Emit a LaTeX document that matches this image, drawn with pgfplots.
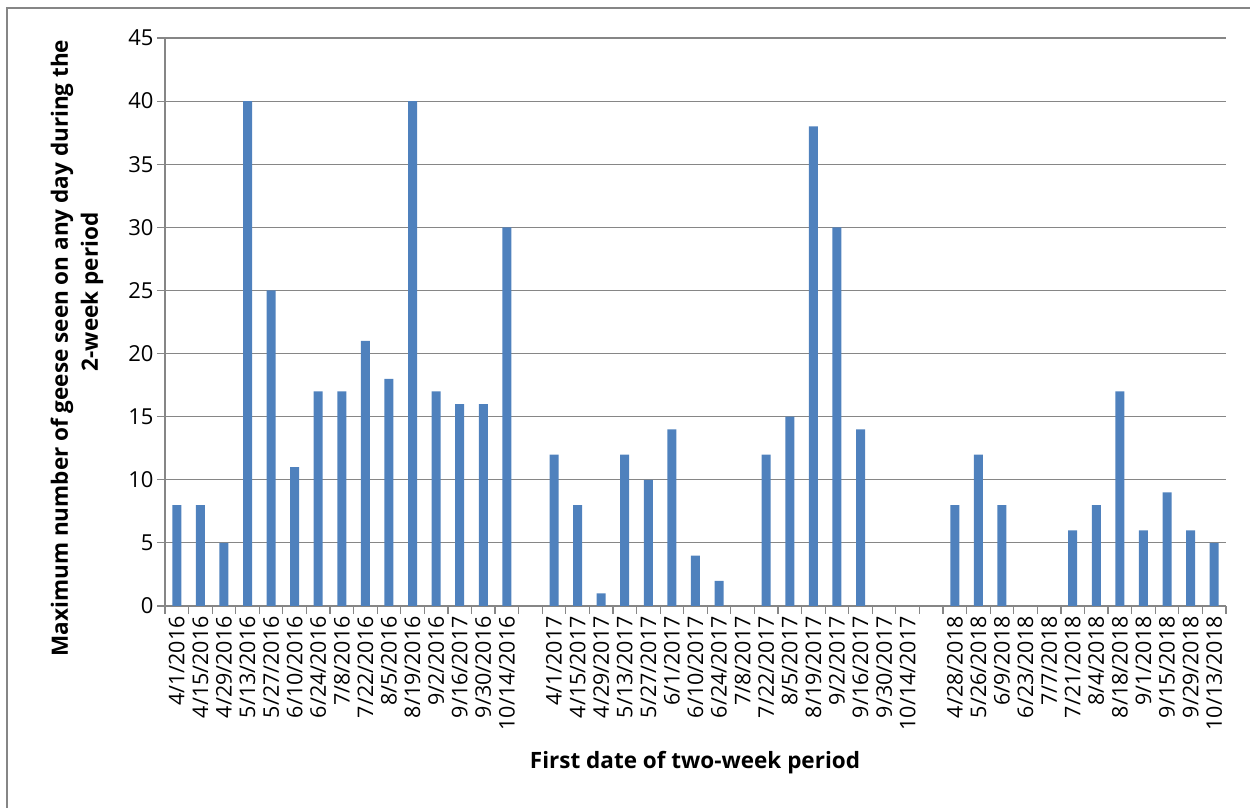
\documentclass[border=0pt]{standalone}
\usepackage{pgfplots}
\pgfplotsset{compat=1.18}
\usepackage{pgfplotstable}
\usepackage{fontspec}
\setmainfont{Open Sans}
\definecolor{barblue}{HTML}{4F81BD}
\definecolor{gridgray}{HTML}{868686}

\pgfplotstableread{
x y
0 8
1 8
2 5
3 40
4 25
5 11
6 17
7 17
8 21
9 18
10 40
11 17
12 16
13 16
14 30
16 12
17 8
18 1
19 12
20 10
21 14
22 4
23 2
25 12
26 15
27 38
28 30
29 14
33 8
34 12
35 8
38 6
39 8
40 17
41 6
42 9
43 6
44 5
}\geese

\begin{document}
\begin{tikzpicture}[x=1pt,y=1pt]
\useasboundingbox (0,0) rectangle (1250,808);
\draw[gridgray, line width=1.5pt] (7,0) -- (7,800) -- (1250,800);
\begin{axis}[
  at={(165pt,202pt)}, anchor=south west,
  width=1061pt, height=568pt, scale only axis,
  xmin=-0.5, xmax=44.5, ymin=0, ymax=45,
  axis x line*=bottom, axis y line*=left,
  axis line style={gridgray, line width=1.2pt, -},
  ytick={0,5,...,45},
  ymajorgrids, grid style={gridgray, line width=1.2pt},
  tick align=outside, major tick length=8pt,
  tick style={gridgray, line width=1.2pt},
  xtick={-0.5,0.5,...,44.5},
  x tick label as interval,
  xticklabels={4/1/2016,4/15/2016,4/29/2016,5/13/2016,5/27/2016,6/10/2016,6/24/2016,7/8/2016,7/22/2016,8/5/2016,8/19/2016,9/2/2016,9/16/2017,9/30/2016,10/14/2016,{},4/1/2017,4/15/2017,4/29/2017,5/13/2017,5/27/2017,6/1/2017,6/10/2017,6/24/2017,7/8/2017,7/22/2017,8/5/2017,8/19/2017,9/2/2017,9/16/2017,9/30/2017,10/14/2017,{},4/28/2018,5/26/2018,6/9/2018,6/23/2018,7/7/2018,7/21/2018,8/4/2018,8/18/2018,9/1/2018,9/15/2018,9/29/2018,10/13/2018},
  xticklabel style={rotate=90, anchor=east, font=\fontsize{21.5}{25}\selectfont, inner sep=2pt},
  yticklabel style={font=\fontsize{22}{26}\selectfont},
  /pgf/number format/assume math mode=true,
]
\addplot[ybar, bar width=9pt, fill=barblue, draw=none] table[x=x,y=y]{\geese};
\end{axis}
\node[rotate=90, font=\bfseries\fontsize{22.5}{26}\selectfont] at (62,460) {Maximum number of geese seen on any day during the};
\node[rotate=90, font=\bfseries\fontsize{22.5}{26}\selectfont] at (92,516) {2-week period};
\node[font=\bfseries\fontsize{22.5}{26}\selectfont] at (695,45) {First date of two-week period};
\end{tikzpicture}
\end{document}
